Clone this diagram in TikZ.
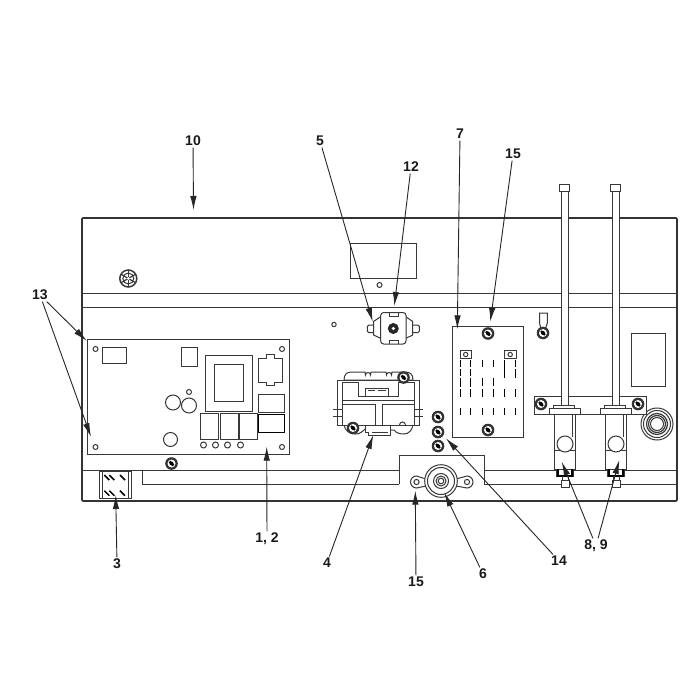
\documentclass[tikz,border=0pt]{standalone}
\usepackage{fontspec}
\setmainfont{Liberation Sans}
\usetikzlibrary{arrows.meta}
\tikzset{
  part/.style={draw=black!78,line width=1pt,fill=white},
  ln/.style={draw=black!78,line width=1pt},
  edge/.style={draw=black!80,line width=1.7pt},
  lab/.style={font=\bfseries\fontsize{14}{16}\selectfont,inner sep=1.5pt,text=black!90},
  lead/.style={draw=black!85,line width=0.9pt,-{Latex[length=14pt,width=6.5pt]}},
  slot/.style={draw=black,line width=1pt},
  screwpic/.pic={
    \fill[black!80] (0,0) circle (6.3);
    \fill[white] (0,0) circle (4);
    \fill[black] (-2.8,-1.1) -- (-1.1,-2.8) -- (2.8,1.1) -- (1.1,2.8) -- cycle;
    \fill[black] (0,0) circle (2);
  }
}
\begin{document}
\begin{tikzpicture}[x=1pt,y=-1pt]
\useasboundingbox (0,0) rectangle (700,700);
\fill[white] (0,0) rectangle (700,700);
% main panel
\draw[edge,rounded corners=1pt] (82,501) -- (82,218) -- (677,218) -- (677,501) -- cycle;
\draw[ln] (82,293.5) -- (677,293.5);
\draw[ln] (82,307) -- (677,307);
\draw[ln] (82,470) -- (399,470);
\draw[ln] (142,470) -- (142,484) -- (399,484);
\draw[ln] (399,484) -- (399,455) -- (484,455) -- (484,484) -- (677,484);
\draw[ln] (484,470) -- (677,470);
% top items
\draw[ln] (350.5,244) rectangle (416,278);
\draw[ln] (379.5,285) circle (2.5);
\draw[ln] (334,324.5) circle (2.2);
\draw[part,line width=1.5pt] (128.3,278.5) circle (8.5);
\draw[ln] (128.3,278.5) circle (5.5);
\foreach \a in {90,210,330} \draw[ln,line width=1.2pt] (128.3,278.5) -- ++(\a:8.5) (128.3,278.5) -- ++(\a+180:8.5);
\fill[white] (128.3,278.5) circle (1.5);
% board
\draw[ln] (87.5,339) rectangle (289.5,454);
\foreach \p in {(95.5,349),(282,349),(95.5,447),(282,447)} \draw[ln] \p circle (2.5);
\draw[ln] (102.5,347) rectangle (126.5,363);
\draw[ln] (181.5,347.5) rectangle (197,366.5);
\draw[ln] (205.5,355) rectangle (252.5,411);
\draw[ln] (214.5,364.5) rectangle (243.5,401);
\draw[ln] (258,358) -- (266,358) -- (266,354.5) -- (274,354.5) -- (274,358) -- (282,358) -- (282,382) -- (274,382) -- (274,385.5) -- (266,385.5) -- (266,382) -- (258,382) -- cycle;
\draw[ln] (258.5,394.5) rectangle (284.5,412.5);
\draw[ln,line width=1.2pt,draw=black] (258.5,414.5) rectangle (284.5,432.5);
\draw[ln] (200.5,413.5) rectangle (218.5,439);
\draw[ln] (220.5,413.5) rectangle (238,439);
\draw[ln] (239.5,413.5) rectangle (257.5,439);
\foreach \x in {203.5,215.5,227.5,240.5} \draw[ln] (\x,445) circle (3);
\draw[ln] (173,402.5) circle (7.5);
\draw[ln] (189,405.5) circle (7.5);
\draw[ln] (189,392) circle (2.5);
\draw[ln] (170.5,439.5) circle (7);
\pic at (171.5,463.5) {screwpic};
% part 3
\draw[ln] (99.5,471.5) rectangle (131,498);
\draw[ln] (102.3,471.5) -- (102.3,498) (128.3,471.5) -- (128.3,498);
\foreach \a/\b in {104.3/475,109.3/475,120/475,104.3/490.7,109.3/490.7,120/490.7}
  \draw[slot,line width=1.5pt] (\a,\b) -- ++(5,5);
% part 5/12
\draw[part,rounded corners=1.5pt] (374,325) -- (367.3,325) -- (367.3,332.7) -- (374,332.7);
\draw[part,rounded corners=1.5pt] (412.7,325) -- (419.3,325) -- (419.3,332.7) -- (412.7,332.7);
\draw[part] (381,316.5) -- (373.5,321.5) -- (373.5,335) -- (381,338.5) -- cycle;
\draw[part] (405.5,316.5) -- (412.7,321.5) -- (412.7,335) -- (405.5,338.5) -- cycle;
\draw[part,rounded corners=3pt] (380.7,312.5) rectangle (406,344);
\draw[ln] (389,312.5) -- (389,316) -- (398,316) -- (398,312.5);
\draw[ln] (389,344) -- (389,340.5) -- (398,340.5) -- (398,344);
\fill[black!85] (393.3,328.5) circle (5.5);
\fill[white] (393.3,328.5) circle (1.8);
% part 4
\draw[part] (344,380) .. controls (344,374) and (347,372) .. (352,372) -- (363,372)
  -- (365,372) -- (365.5,375) arc[start angle=180,end angle=360,radius=2.5] -- (371,372)
  -- (386,372) -- (386.5,375) arc[start angle=180,end angle=360,radius=2.5] -- (392,372)
  -- (405,372) .. controls (410,372) and (413,374) .. (413,380) -- cycle;
\draw[ln] (350.5,380) arc[start angle=180,end angle=0,radius=3.5];
\draw[part] (337.7,380) rectangle (419,425);
\draw[part] (342.3,425) -- (342.3,382) -- (358.3,382) -- (358.3,396) -- (398.3,396) -- (398.3,382) -- (414.3,382) -- (414.3,425) -- cycle;
\draw[ln] (365.7,396) -- (365.7,388) -- (388,388) -- (388,396);
\draw[ln] (368,390) -- (375,390) (378,390) -- (386,390);
\draw[ln] (342.3,400) -- (414.3,400);
\draw[ln] (342.3,404) -- (375,404) -- (375,424.5) (414.3,404) -- (382,404) -- (382,424.5);
\draw[ln] (333,409.3) -- (342.3,409.3) (333,416.7) -- (342.3,416.7);
\draw[ln] (414.3,409.3) -- (423,409.3) (414.3,416.7) -- (423,416.7);
\draw[part] (365,425) -- (365,432) -- (368,432) -- (368,435.7) -- (390,435.7) -- (390,425) -- cycle;
\draw[ln] (372,432) -- (388,432);
\draw[ln] (344,425) .. controls (345,431) and (350,434) .. (356,434) .. controls (360,434) and (363,431) .. (365,429);
\draw[ln] (390,430) -- (394,430) .. controls (396,433) and (400,434) .. (404,434) .. controls (409,434) and (412,430) .. (413,425);
\draw[ln] (399.5,425) arc[start angle=180,end angle=360,radius=3];
\pic at (403.5,377.5) {screwpic};
\pic at (353,428) {screwpic};
% screws 14
\pic at (438,417) {screwpic};
\pic at (438,432) {screwpic};
\pic at (438,446) {screwpic};
% part 6
\draw[part] (426,479) -- (416.5,476) arc[start angle=-90,end angle=-270,radius=6] -- (426,486);
\draw[part] (456,479) -- (467,476) arc[start angle=-90,end angle=90,radius=6] -- (456,486);
\draw[ln] (416.5,482) circle (2.6);
\draw[ln] (467,482) circle (2.6);
\draw[part] (441,481) circle (16.3);
\draw[ln] (441,481) circle (13.5);
\draw[ln] (441,481) circle (7.5);
\draw[ln] (441,481) circle (5);
\draw[ln] (441,481) circle (2.8);
% plate 7
\draw[part] (452.5,326.5) rectangle (523,437);
\pic at (488,333.5) {screwpic};
\pic at (488,430) {screwpic};
\foreach \x in {460,504.5} {
  \draw[ln] (\x,350.5) rectangle ++(11.5,8);
  \draw[ln] (\x+5.7,354.5) circle (2.2);
}
\foreach \x in {460.3,470.7} \foreach \a/\b in {360/366.7,369/375.7,378/386.7,389/397,408/415}
  \draw[slot] (\x,\a) -- (\x,\b);
\foreach \x in {482.3,493} \foreach \a/\b in {360/367,378/385.5,389/397,408/415}
  \draw[slot] (\x,\a) -- (\x,\b);
\draw[slot] (504.7,360) -- (504.7,378);
\draw[slot] (515.3,360) -- (515.3,367) (515.3,369) -- (515.3,378);
\foreach \x in {504.7,515.3} \foreach \a/\b in {389/397,408/415}
  \draw[slot] (\x,\a) -- (\x,\b);
% ring terminal
\draw[ln] (541,329) -- (539.5,323) -- (539.5,313) -- (547.3,313) -- (547.3,323) -- (545.5,329);
\pic at (543,333) {screwpic};
% right rect + grommet
\draw[ln] (631,333) rectangle (665.5,386);
\draw[part] (657,424) circle (16);
\draw[ln] (657,424) circle (13.5);
\draw[ln,line width=1.2pt] (657,424) circle (10.5);
\draw[ln,line width=1.2pt] (657,424) circle (8.5);
\draw[ln] (657,424) circle (6.5);
% bracket
\draw[part] (534.5,396.5) -- (646,396.5) -- (646,414.5) -- (534.5,414.5) -- cycle;
\pic at (541,404) {screwpic};
\pic at (638,404) {screwpic};
% valve units
\foreach \dx in {0,51} {
  \begin{scope}[shift={(\dx,0)}]
  \draw[part] (561,192) rectangle (568.5,406);
  \draw[part] (559.5,184.7) rectangle (569.5,192);
  \draw[part] (553,405.5) rectangle (574.5,408.3);
  \draw[part] (549.3,408.3) rectangle (580.7,414);
  \draw[part] (554.7,414) rectangle (575,450);
  \draw[ln] (572.7,414) -- (572.7,437);
  \draw[part] (554.7,450) rectangle (575,469);
  \draw[part] (565,444) circle (8);
  \draw[part] (556.7,469) rectangle (573,476);
  \draw[slot,line width=1.8pt] (557.7,469) -- (557.7,476) -- (572,476) -- (572,469);
  \draw[ln] (562.5,476) -- (562.5,480) (568,476) -- (568,480);
  \draw[part] (561.7,480) rectangle (569,487.7);
  \end{scope}
}
% labels
\node[lab] (l10) at (193,141) {10};
\node[lab] (l5) at (320,141) {5};
\node[lab] (l12) at (411,167) {12};
\node[lab] (l7) at (460,134) {7};
\node[lab] (l15a) at (513,154) {15};
\node[lab] (l13) at (40,295) {13};
\node[lab] (l12b) at (267,539) {1, 2};
\node[lab] (l3) at (117,564) {3};
\node[lab] (l4) at (327,563) {4};
\node[lab] (l15b) at (416,582) {15};
\node[lab] (l6) at (483,574) {6};
\node[lab] (l14) at (559,561) {14};
\node[lab] (l89) at (596,546) {8, 9};
% targets
\coordinate (t10) at (193.5,210);
\coordinate (t5) at (372.7,321.7);
\coordinate (t12) at (394.3,306);
\coordinate (t7) at (457.3,329.3);
\coordinate (t15a) at (490.3,321.7);
\coordinate (t13a) at (86.7,341);
\coordinate (t13b) at (91,437);
\coordinate (t12b) at (266.7,446.7);
\coordinate (t3) at (115.7,495);
\coordinate (t4) at (373.3,435);
\coordinate (t15b) at (415.3,490.7);
\coordinate (t6) at (444.3,492.7);
\coordinate (t14) at (446,438.3);
\coordinate (t8) at (561.7,461.7);
\coordinate (t9) at (619.3,460);
\draw[lead] (l10) -- (t10);
\draw[lead] (l5) -- (t5);
\draw[lead] (l12) -- (t12);
\draw[lead] (l7) -- (t7);
\draw[lead] (l15a) -- (t15a);
\draw[lead] (l13) -- (t13a);
\draw[lead] (l13) -- (t13b);
\draw[lead] (l12b) -- (t12b);
\draw[lead] (l3) -- (t3);
\draw[lead] (l4) -- (t4);
\draw[lead] (l15b) -- (t15b);
\draw[lead] (l6) -- (t6);
\draw[lead] (l14) -- (t14);
\draw[lead] (l89) -- (t8);
\draw[lead] (l89) -- (t9);
\end{tikzpicture}
\end{document}
